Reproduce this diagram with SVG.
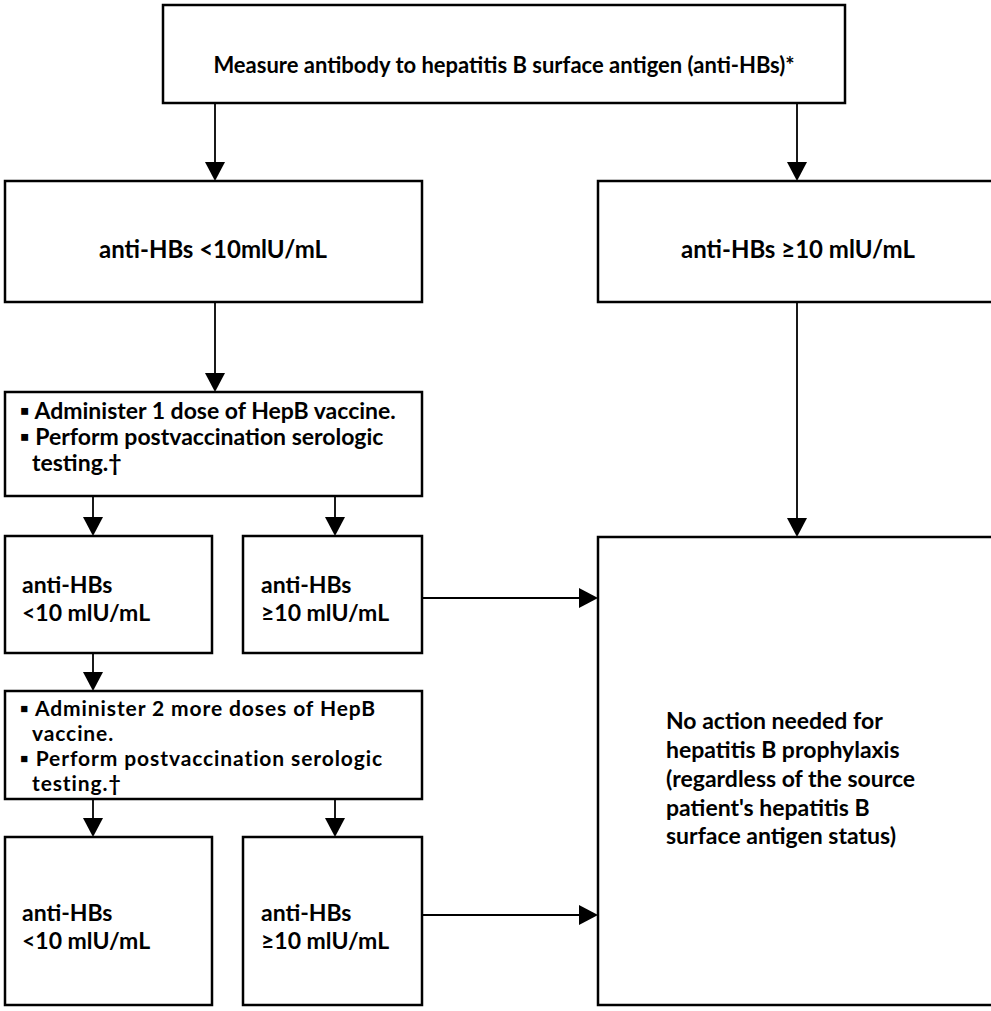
<svg xmlns="http://www.w3.org/2000/svg" width="991" height="1011" viewBox="0 0 991 1011">
<style>
.box{fill:#fff;stroke:#000;stroke-width:2.5}
.t{font-family:Lato,"Liberation Sans",sans-serif;font-weight:700;font-size:23px;fill:#000}
.big{font-size:24px}
.top{font-size:22px}
.sm{font-size:21px;letter-spacing:0.9px}
.c{text-anchor:middle}
.ln{stroke:#000;stroke-width:1.8;fill:none}
</style>
<rect width="991" height="1011" fill="#fff"/>
<g id="connectors">
<path class="ln" d="M215,103 V165" />
<path d="M205,162 L225,162 L215,181 z"/>
<path class="ln" d="M797,103 V165" />
<path d="M787,162 L807,162 L797,181 z"/>
<path class="ln" d="M215,302 V376" />
<path d="M205,373 L225,373 L215,392 z"/>
<path class="ln" d="M93,496 V520" />
<path d="M83,517 L103,517 L93,536 z"/>
<path class="ln" d="M335,496 V520" />
<path d="M325,517 L345,517 L335,536 z"/>
<path class="ln" d="M797,302 V521" />
<path d="M787,518 L807,518 L797,537 z"/>
<path class="ln" d="M422,598 H582" />
<path d="M579,588 L579,608 L598,598 z"/>
<path class="ln" d="M93,653 V675" />
<path d="M83,672 L103,672 L93,691 z"/>
<path class="ln" d="M93,799 V821" />
<path d="M83,818 L103,818 L93,837 z"/>
<path class="ln" d="M335,799 V821" />
<path d="M325,818 L345,818 L335,837 z"/>
<path class="ln" d="M422,915 H582" />
<path d="M579,905 L579,925 L598,915 z"/>
</g>
<g id="n-measure">
<rect class="box" x="163" y="5" width="682" height="98"/>
<text class="t top c" x="504" y="73">Measure antibody to hepatitis B surface antigen (anti-HBs)*</text>
</g>
<g id="n-lt10a">
<rect class="box" x="5" y="181" width="417" height="121"/>
<text class="t big c" x="213" y="258">anti-HBs &lt;10mlU/mL</text>
</g>
<g id="n-ge10a">
<rect class="box" x="598" y="181" width="400" height="121"/>
<text class="t big c" x="798" y="258">anti-HBs ≥10 mlU/mL</text>
</g>
<g id="n-dose1">
<rect class="box" x="5" y="392" width="417" height="104"/>
<text class="t" x="20" y="419">▪ Administer 1 dose of HepB vaccine.</text>
<text class="t" x="20" y="445">▪ Perform postvaccination serologic</text>
<text class="t" x="32" y="471">testing.†</text>
</g>
<g id="n-lt10b">
<rect class="box" x="5" y="536" width="207" height="117"/>
<text class="t" x="22" y="593">anti-HBs</text>
<text class="t" x="22" y="621">&lt;10 mlU/mL</text>
</g>
<g id="n-ge10b">
<rect class="box" x="243" y="536" width="179" height="117"/>
<text class="t" x="261" y="593">anti-HBs</text>
<text class="t" x="261" y="621">≥10 mlU/mL</text>
</g>
<g id="n-dose2">
<rect class="box" x="5" y="691" width="417" height="108"/>
<text class="t sm" x="20" y="716">▪ Administer 2 more doses of HepB</text>
<text class="t sm" x="32" y="741">vaccine.</text>
<text class="t sm" x="20" y="766">▪ Perform postvaccination serologic</text>
<text class="t sm" x="32" y="791">testing.†</text>
</g>
<g id="n-lt10c">
<rect class="box" x="5" y="837" width="207" height="168"/>
<text class="t" x="22" y="921">anti-HBs</text>
<text class="t" x="22" y="949">&lt;10 mlU/mL</text>
</g>
<g id="n-ge10c">
<rect class="box" x="243" y="837" width="179" height="168"/>
<text class="t" x="261" y="921">anti-HBs</text>
<text class="t" x="261" y="949">≥10 mlU/mL</text>
</g>
<g id="n-noaction">
<rect class="box" x="598" y="537" width="400" height="468"/>
<text class="t" x="666" y="729">No action needed for</text>
<text class="t" x="666" y="758">hepatitis B prophylaxis</text>
<text class="t" x="666" y="787">(regardless of the source</text>
<text class="t" x="666" y="816">patient's hepatitis B</text>
<text class="t" x="666" y="844">surface antigen status)</text>
</g>
</svg>
